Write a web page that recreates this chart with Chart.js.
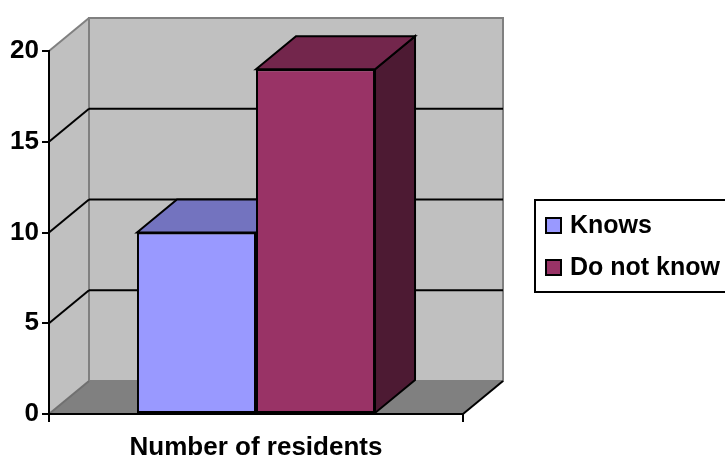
<!DOCTYPE html>
<html>
<head>
<meta charset="utf-8">
<script src="https://cdn.jsdelivr.net/npm/chart.js@4.4.0/dist/chart.umd.min.js"></script>
<style>
	body { margin: 0; background: #ffffff; }
	#wrap { width: 725px; height: 459px; position: relative; }
</style>
</head>
<body>
<div id="wrap"><canvas id="residents"></canvas></div>
<script>
//
// Données
//
const categories = [ "Number of residents" ];
const series_names = [ "Knows", "Do not know" ];
const knows = [ 10 ];
const do_not_know = [ 19 ];
const y_ticks = [ 0, 5, 10, 15, 20 ];

const front_colors = [ "#9999ff", "#993366" ];
const top_colors = [ "#7373bf", "#73264c" ];
const side_colors = [ "#4d4d80", "#4d1a33" ];

const font_family = "'Liberation Sans', Arial, sans-serif";

// décalage de profondeur de l'effet 3D
const DX = 40;
const DY = -33;

function poly( ctx, pts, fill, stroke, width )
{
	ctx.beginPath();
	ctx.moveTo( pts[ 0 ][ 0 ], pts[ 0 ][ 1 ] );
	for ( let i = 1; i < pts.length; i++ )
		ctx.lineTo( pts[ i ][ 0 ], pts[ i ][ 1 ] );
	ctx.closePath();
	if ( fill ) { ctx.fillStyle = fill; ctx.fill(); }
	if ( stroke ) { ctx.strokeStyle = stroke; ctx.lineWidth = width || 2; ctx.stroke(); }
}

function line( ctx, x1, y1, x2, y2, color, width )
{
	ctx.beginPath();
	ctx.moveTo( x1, y1 );
	ctx.lineTo( x2, y2 );
	ctx.strokeStyle = color;
	ctx.lineWidth = width;
	ctx.stroke();
}

//
// Murs, sol, quadrillage et faces 3D des barres
//
const walls = {
	id: "walls",
	beforeDraw( chart )
	{
		const ctx = chart.ctx;
		const { left: L, right: R, top: T, bottom: B } = chart.chartArea;
		const y = chart.scales.y;
		ctx.save();
		// mur de gauche
		poly( ctx, [ [ L, T ], [ L + DX, T + DY ], [ L + DX, B + DY ], [ L, B ] ], "#c0c0c0" );
		line( ctx, L, T, L + DX, T + DY, "#808080", 2 );
		// mur du fond
		poly( ctx, [ [ L + DX, T + DY ], [ R + DX, T + DY ], [ R + DX, B + DY ], [ L + DX, B + DY ] ], "#c0c0c0", "#808080", 2 );
		// sol
		poly( ctx, [ [ L, B ], [ L + DX, B + DY ], [ R + DX, B + DY ], [ R, B ] ], "#808080" );
		line( ctx, L, B, L + DX, B + DY, "#707070", 2 );
		line( ctx, R, B, R + DX, B + DY, "#000000", 2 );
		// quadrillage
		y_ticks.forEach( v =>
		{
			if ( v === y.min || v === y.max ) return;
			const py = y.getPixelForValue( v );
			line( ctx, L, py, L + DX, py + DY, "#000000", 2 );
			line( ctx, L + DX, py + DY, R + DX, py + DY, "#000000", 2 );
		} );
		ctx.restore();
	},
	beforeDatasetsDraw( chart )
	{
		// côtés et dessus, dessinés avant les faces avant
		const ctx = chart.ctx;
		ctx.save();
		chart.data.datasets.forEach( ( ds, i ) =>
		{
			chart.getDatasetMeta( i ).data.forEach( bar =>
			{
				const { x, y, base, width } = bar.getProps( [ "x", "y", "base", "width" ], true );
				const l = x - width / 2;
				const r = x + width / 2;
				poly( ctx, [ [ r, y ], [ r + DX, y + DY ], [ r + DX, base + DY ], [ r, base ] ], side_colors[ i ], "#000000", 2 );
				poly( ctx, [ [ l, y ], [ l + DX, y + DY ], [ r + DX, y + DY ], [ r, y ] ], top_colors[ i ], "#000000", 2 );
			} );
		} );
		ctx.restore();
	},
	afterDraw( chart )
	{
		// légende encadrée
		const ctx = chart.ctx;
		ctx.save();
		ctx.fillStyle = "#ffffff";
		ctx.fillRect( 535, 200, 200, 92 );
		ctx.strokeStyle = "#000000";
		ctx.lineWidth = 2;
		ctx.strokeRect( 535, 200, 200, 92 );
		ctx.font = "bold 25px " + font_family;
		ctx.textBaseline = "middle";
		chart.data.datasets.forEach( ( ds, k ) =>
		{
			const cy = 226 + k * 42;
			ctx.fillStyle = ds.backgroundColor;
			ctx.fillRect( 546, cy - 8, 15, 15 );
			ctx.strokeRect( 546, cy - 8, 15, 15 );
			ctx.fillStyle = "#000000";
			ctx.fillText( ds.label, 570, cy );
		} );
		ctx.restore();
	}
};

new Chart( document.getElementById( "residents" ),
	{
		type: "bar",
		data: {
			labels: categories,
			datasets: [
				{
					label: series_names[ 0 ],
					data: knows,
					backgroundColor: front_colors[ 0 ],
					borderColor: "#000000",
					borderWidth: 2,
					borderSkipped: false
				},
				{
					label: series_names[ 1 ],
					data: do_not_know,
					backgroundColor: front_colors[ 1 ],
					borderColor: "#000000",
					borderWidth: 2,
					borderSkipped: false
				}
			]
		},
		options: {
			responsive: true,
			maintainAspectRatio: false,
			animation: false,
			events: [],
			barPercentage: 1,
			categoryPercentage: 0.575,
			layout: {
				padding: { top: 51, right: 262, left: 0, bottom: 0 }
			},
			plugins: {
				legend: { display: false },
				tooltip: { enabled: false }
			},
			scales: {
				x: {
					afterFit: s => { s.height = 45; },
					grid: {
						drawOnChartArea: false,
						drawTicks: true,
						tickLength: 8,
						color: "#000000",
						lineWidth: 2
					},
					border: { display: true, color: "#000000", width: 2 },
					ticks: {
						color: "#000000",
						padding: 10,
						font: { size: 26, weight: "bold", family: font_family, lineHeight: 1.2 }
					}
				},
				y: {
					min: 0,
					max: 20,
					afterFit: s => { s.width = 49; },
					afterBuildTicks: s => { s.ticks = y_ticks.map( v => ( { value: v } ) ); },
					grid: {
						drawOnChartArea: false,
						drawTicks: true,
						tickLength: 7,
						color: "#000000",
						lineWidth: 2
					},
					border: { display: true, color: "#000000", width: 2 },
					ticks: {
						color: "#000000",
						padding: 3,
						font: { size: 26, weight: "bold", family: font_family }
					}
				}
			}
		},
		plugins: [ walls ]
	} );
</script>
</body>
</html>
